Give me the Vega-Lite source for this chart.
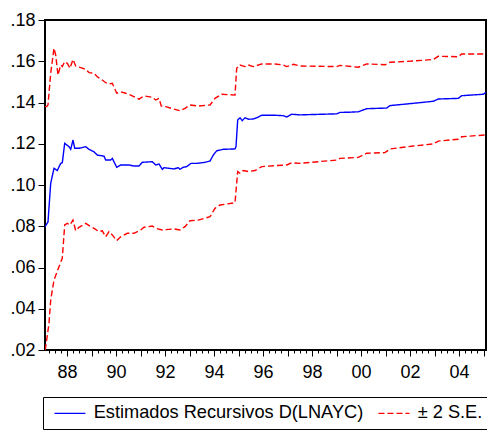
{
  "$schema": "https://vega.github.io/schema/vega-lite/v6.json",
  "width": 441,
  "height": 330,
  "autosize": {"type": "none"},
  "padding": {"left": 45, "top": 20, "right": 1, "bottom": 81},
  "background": "white",
  "config": {
    "font": "Liberation Sans",
    "view": {"stroke": "black", "strokeWidth": 2},
    "axis": {"domain": false, "grid": false, "tickColor": "black", "labelColor": "black", "labelFont": "Liberation Sans", "labelFontSize": 18, "title": null},
    "legend": {
      "title": null,
      "orient": "none",
      "legendX": -2,
      "legendY": 377,
      "direction": "horizontal",
      "symbolType": "M-0.6,0H3.4",
      "symbolSize": 240,
      "symbolStrokeWidth": 1.3,
      "labelFont": "Liberation Sans",
      "labelFontSize": 18.2,
      "labelColor": "black",
      "labelLimit": 500,
      "labelOffset": 25.5,
      "columnPadding": 10,
      "padding": 7,
      "strokeColor": "black"
    }
  },
  "data": {
    "values": [
      {"t": 1987.100, "v": 0.0797, "s": "est", "k": "e"},
      {"t": 1987.222, "v": 0.0821, "s": "est", "k": "e"},
      {"t": 1987.333, "v": 0.1008, "s": "est", "k": "e"},
      {"t": 1987.467, "v": 0.1081, "s": "est", "k": "e"},
      {"t": 1987.602, "v": 0.1070, "s": "est", "k": "e"},
      {"t": 1987.741, "v": 0.1105, "s": "est", "k": "e"},
      {"t": 1987.806, "v": 0.1108, "s": "est", "k": "e"},
      {"t": 1987.904, "v": 0.1202, "s": "est", "k": "e"},
      {"t": 1988.080, "v": 0.1186, "s": "est", "k": "e"},
      {"t": 1988.149, "v": 0.1173, "s": "est", "k": "e"},
      {"t": 1988.243, "v": 0.1218, "s": "est", "k": "e"},
      {"t": 1988.312, "v": 0.1178, "s": "est", "k": "e"},
      {"t": 1988.488, "v": 0.1178, "s": "est", "k": "e"},
      {"t": 1988.761, "v": 0.1186, "s": "est", "k": "e"},
      {"t": 1988.896, "v": 0.1173, "s": "est", "k": "e"},
      {"t": 1989.100, "v": 0.1161, "s": "est", "k": "e"},
      {"t": 1989.235, "v": 0.1145, "s": "est", "k": "e"},
      {"t": 1989.508, "v": 0.1140, "s": "est", "k": "e"},
      {"t": 1989.578, "v": 0.1121, "s": "est", "k": "e"},
      {"t": 1989.782, "v": 0.1121, "s": "est", "k": "e"},
      {"t": 1989.847, "v": 0.1129, "s": "est", "k": "e"},
      {"t": 1990.027, "v": 0.1086, "s": "est", "k": "e"},
      {"t": 1990.190, "v": 0.1097, "s": "est", "k": "e"},
      {"t": 1990.529, "v": 0.1097, "s": "est", "k": "e"},
      {"t": 1990.733, "v": 0.1092, "s": "est", "k": "e"},
      {"t": 1990.937, "v": 0.1092, "s": "est", "k": "e"},
      {"t": 1991.071, "v": 0.1110, "s": "est", "k": "e"},
      {"t": 1991.480, "v": 0.1113, "s": "est", "k": "e"},
      {"t": 1991.618, "v": 0.1097, "s": "est", "k": "e"},
      {"t": 1991.753, "v": 0.1102, "s": "est", "k": "e"},
      {"t": 1991.888, "v": 0.1076, "s": "est", "k": "e"},
      {"t": 1991.957, "v": 0.1084, "s": "est", "k": "e"},
      {"t": 1992.365, "v": 0.1078, "s": "est", "k": "e"},
      {"t": 1992.541, "v": 0.1084, "s": "est", "k": "e"},
      {"t": 1992.610, "v": 0.1076, "s": "est", "k": "e"},
      {"t": 1992.745, "v": 0.1086, "s": "est", "k": "e"},
      {"t": 1992.884, "v": 0.1089, "s": "est", "k": "e"},
      {"t": 1993.059, "v": 0.1105, "s": "est", "k": "e"},
      {"t": 1993.292, "v": 0.1105, "s": "est", "k": "e"},
      {"t": 1993.631, "v": 0.1110, "s": "est", "k": "e"},
      {"t": 1993.835, "v": 0.1116, "s": "est", "k": "e"},
      {"t": 1993.969, "v": 0.1145, "s": "est", "k": "e"},
      {"t": 1994.108, "v": 0.1166, "s": "est", "k": "e"},
      {"t": 1994.378, "v": 0.1173, "s": "est", "k": "e"},
      {"t": 1994.855, "v": 0.1175, "s": "est", "k": "e"},
      {"t": 1994.896, "v": 0.1186, "s": "est", "k": "e"},
      {"t": 1994.965, "v": 0.1315, "s": "est", "k": "e"},
      {"t": 1995.059, "v": 0.1326, "s": "est", "k": "e"},
      {"t": 1995.153, "v": 0.1312, "s": "est", "k": "e"},
      {"t": 1995.263, "v": 0.1326, "s": "est", "k": "e"},
      {"t": 1995.398, "v": 0.1319, "s": "est", "k": "e"},
      {"t": 1995.602, "v": 0.1320, "s": "est", "k": "e"},
      {"t": 1995.741, "v": 0.1326, "s": "est", "k": "e"},
      {"t": 1995.945, "v": 0.1338, "s": "est", "k": "e"},
      {"t": 1996.488, "v": 0.1338, "s": "est", "k": "e"},
      {"t": 1996.827, "v": 0.1336, "s": "est", "k": "e"},
      {"t": 1996.965, "v": 0.1330, "s": "est", "k": "e"},
      {"t": 1997.169, "v": 0.1343, "s": "est", "k": "e"},
      {"t": 1997.508, "v": 0.1340, "s": "est", "k": "e"},
      {"t": 1999.006, "v": 0.1345, "s": "est", "k": "e"},
      {"t": 1999.141, "v": 0.1352, "s": "est", "k": "e"},
      {"t": 1999.549, "v": 0.1353, "s": "est", "k": "e"},
      {"t": 1999.888, "v": 0.1355, "s": "est", "k": "e"},
      {"t": 2000.231, "v": 0.1370, "s": "est", "k": "e"},
      {"t": 2001.047, "v": 0.1373, "s": "est", "k": "e"},
      {"t": 2001.182, "v": 0.1385, "s": "est", "k": "e"},
      {"t": 2002.133, "v": 0.1396, "s": "est", "k": "e"},
      {"t": 2002.949, "v": 0.1406, "s": "est", "k": "e"},
      {"t": 2003.153, "v": 0.1417, "s": "est", "k": "e"},
      {"t": 2003.969, "v": 0.1420, "s": "est", "k": "e"},
      {"t": 2004.108, "v": 0.1433, "s": "est", "k": "e"},
      {"t": 2004.990, "v": 0.1440, "s": "est", "k": "e"},
      {"t": 2005.100, "v": 0.1449, "s": "est", "k": "e"},

      {"t": 1987.100, "v": 0.1380, "s": "se", "k": "u"},
      {"t": 1987.169, "v": 0.1380, "s": "se", "k": "u"},
      {"t": 1987.222, "v": 0.1388, "s": "se", "k": "u"},
      {"t": 1987.333, "v": 0.1542, "s": "se", "k": "u"},
      {"t": 1987.467, "v": 0.1663, "s": "se", "k": "u"},
      {"t": 1987.537, "v": 0.1630, "s": "se", "k": "u"},
      {"t": 1987.631, "v": 0.1533, "s": "se", "k": "u"},
      {"t": 1987.741, "v": 0.1582, "s": "se", "k": "u"},
      {"t": 1987.806, "v": 0.1574, "s": "se", "k": "u"},
      {"t": 1987.904, "v": 0.1598, "s": "se", "k": "u"},
      {"t": 1988.010, "v": 0.1590, "s": "se", "k": "u"},
      {"t": 1988.120, "v": 0.1566, "s": "se", "k": "u"},
      {"t": 1988.243, "v": 0.1609, "s": "se", "k": "u"},
      {"t": 1988.353, "v": 0.1577, "s": "se", "k": "u"},
      {"t": 1988.557, "v": 0.1569, "s": "se", "k": "u"},
      {"t": 1988.761, "v": 0.1561, "s": "se", "k": "u"},
      {"t": 1988.896, "v": 0.1545, "s": "se", "k": "u"},
      {"t": 1989.100, "v": 0.1542, "s": "se", "k": "u"},
      {"t": 1989.235, "v": 0.1525, "s": "se", "k": "u"},
      {"t": 1989.439, "v": 0.1509, "s": "se", "k": "u"},
      {"t": 1989.578, "v": 0.1496, "s": "se", "k": "u"},
      {"t": 1989.712, "v": 0.1490, "s": "se", "k": "u"},
      {"t": 1989.847, "v": 0.1493, "s": "se", "k": "u"},
      {"t": 1990.027, "v": 0.1445, "s": "se", "k": "u"},
      {"t": 1990.190, "v": 0.1452, "s": "se", "k": "u"},
      {"t": 1990.394, "v": 0.1445, "s": "se", "k": "u"},
      {"t": 1990.598, "v": 0.1436, "s": "se", "k": "u"},
      {"t": 1990.937, "v": 0.1416, "s": "se", "k": "u"},
      {"t": 1991.141, "v": 0.1432, "s": "se", "k": "u"},
      {"t": 1991.480, "v": 0.1425, "s": "se", "k": "u"},
      {"t": 1991.618, "v": 0.1412, "s": "se", "k": "u"},
      {"t": 1991.753, "v": 0.1420, "s": "se", "k": "u"},
      {"t": 1991.847, "v": 0.1383, "s": "se", "k": "u"},
      {"t": 1992.027, "v": 0.1380, "s": "se", "k": "u"},
      {"t": 1992.337, "v": 0.1369, "s": "se", "k": "u"},
      {"t": 1992.610, "v": 0.1360, "s": "se", "k": "u"},
      {"t": 1992.814, "v": 0.1372, "s": "se", "k": "u"},
      {"t": 1993.018, "v": 0.1388, "s": "se", "k": "u"},
      {"t": 1993.357, "v": 0.1383, "s": "se", "k": "u"},
      {"t": 1993.835, "v": 0.1388, "s": "se", "k": "u"},
      {"t": 1994.039, "v": 0.1420, "s": "se", "k": "u"},
      {"t": 1994.312, "v": 0.1440, "s": "se", "k": "u"},
      {"t": 1994.855, "v": 0.1436, "s": "se", "k": "u"},
      {"t": 1994.924, "v": 0.1566, "s": "se", "k": "u"},
      {"t": 1995.059, "v": 0.1582, "s": "se", "k": "u"},
      {"t": 1995.263, "v": 0.1574, "s": "se", "k": "u"},
      {"t": 1995.398, "v": 0.1582, "s": "se", "k": "u"},
      {"t": 1995.602, "v": 0.1574, "s": "se", "k": "u"},
      {"t": 1995.945, "v": 0.1587, "s": "se", "k": "u"},
      {"t": 1996.488, "v": 0.1587, "s": "se", "k": "u"},
      {"t": 1996.827, "v": 0.1582, "s": "se", "k": "u"},
      {"t": 1996.965, "v": 0.1574, "s": "se", "k": "u"},
      {"t": 1997.235, "v": 0.1585, "s": "se", "k": "u"},
      {"t": 1997.508, "v": 0.1577, "s": "se", "k": "u"},
      {"t": 1999.006, "v": 0.1574, "s": "se", "k": "u"},
      {"t": 1999.141, "v": 0.1580, "s": "se", "k": "u"},
      {"t": 1999.888, "v": 0.1571, "s": "se", "k": "u"},
      {"t": 2000.231, "v": 0.1587, "s": "se", "k": "u"},
      {"t": 2000.978, "v": 0.1583, "s": "se", "k": "u"},
      {"t": 2001.182, "v": 0.1595, "s": "se", "k": "u"},
      {"t": 2002.133, "v": 0.1601, "s": "se", "k": "u"},
      {"t": 2002.949, "v": 0.1609, "s": "se", "k": "u"},
      {"t": 2003.153, "v": 0.1624, "s": "se", "k": "u"},
      {"t": 2003.969, "v": 0.1622, "s": "se", "k": "u"},
      {"t": 2004.108, "v": 0.1635, "s": "se", "k": "u"},
      {"t": 2004.990, "v": 0.1635, "s": "se", "k": "u"},
      {"t": 2005.100, "v": 0.1645, "s": "se", "k": "u"},

      {"t": 1987.110, "v": 0.0200, "s": "se", "k": "l"},
      {"t": 1987.129, "v": 0.0216, "s": "se", "k": "l"},
      {"t": 1987.263, "v": 0.0329, "s": "se", "k": "l"},
      {"t": 1987.333, "v": 0.0442, "s": "se", "k": "l"},
      {"t": 1987.467, "v": 0.0539, "s": "se", "k": "l"},
      {"t": 1987.671, "v": 0.0604, "s": "se", "k": "l"},
      {"t": 1987.806, "v": 0.0645, "s": "se", "k": "l"},
      {"t": 1987.904, "v": 0.0806, "s": "se", "k": "l"},
      {"t": 1988.010, "v": 0.0814, "s": "se", "k": "l"},
      {"t": 1988.120, "v": 0.0806, "s": "se", "k": "l"},
      {"t": 1988.243, "v": 0.0830, "s": "se", "k": "l"},
      {"t": 1988.353, "v": 0.0778, "s": "se", "k": "l"},
      {"t": 1988.488, "v": 0.0795, "s": "se", "k": "l"},
      {"t": 1988.761, "v": 0.0814, "s": "se", "k": "l"},
      {"t": 1988.965, "v": 0.0798, "s": "se", "k": "l"},
      {"t": 1989.100, "v": 0.0790, "s": "se", "k": "l"},
      {"t": 1989.304, "v": 0.0774, "s": "se", "k": "l"},
      {"t": 1989.439, "v": 0.0778, "s": "se", "k": "l"},
      {"t": 1989.578, "v": 0.0749, "s": "se", "k": "l"},
      {"t": 1989.712, "v": 0.0774, "s": "se", "k": "l"},
      {"t": 1989.847, "v": 0.0758, "s": "se", "k": "l"},
      {"t": 1990.027, "v": 0.0730, "s": "se", "k": "l"},
      {"t": 1990.190, "v": 0.0749, "s": "se", "k": "l"},
      {"t": 1990.459, "v": 0.0766, "s": "se", "k": "l"},
      {"t": 1990.733, "v": 0.0766, "s": "se", "k": "l"},
      {"t": 1991.006, "v": 0.0782, "s": "se", "k": "l"},
      {"t": 1991.141, "v": 0.0795, "s": "se", "k": "l"},
      {"t": 1991.480, "v": 0.0801, "s": "se", "k": "l"},
      {"t": 1991.618, "v": 0.0790, "s": "se", "k": "l"},
      {"t": 1991.888, "v": 0.0782, "s": "se", "k": "l"},
      {"t": 1992.365, "v": 0.0787, "s": "se", "k": "l"},
      {"t": 1992.610, "v": 0.0782, "s": "se", "k": "l"},
      {"t": 1992.814, "v": 0.0798, "s": "se", "k": "l"},
      {"t": 1993.018, "v": 0.0827, "s": "se", "k": "l"},
      {"t": 1993.357, "v": 0.0830, "s": "se", "k": "l"},
      {"t": 1993.835, "v": 0.0846, "s": "se", "k": "l"},
      {"t": 1994.039, "v": 0.0887, "s": "se", "k": "l"},
      {"t": 1994.243, "v": 0.0903, "s": "se", "k": "l"},
      {"t": 1994.855, "v": 0.0914, "s": "se", "k": "l"},
      {"t": 1994.965, "v": 0.1065, "s": "se", "k": "l"},
      {"t": 1995.059, "v": 0.1057, "s": "se", "k": "l"},
      {"t": 1995.194, "v": 0.1070, "s": "se", "k": "l"},
      {"t": 1995.398, "v": 0.1065, "s": "se", "k": "l"},
      {"t": 1995.671, "v": 0.1070, "s": "se", "k": "l"},
      {"t": 1995.945, "v": 0.1089, "s": "se", "k": "l"},
      {"t": 1996.488, "v": 0.1094, "s": "se", "k": "l"},
      {"t": 1996.965, "v": 0.1097, "s": "se", "k": "l"},
      {"t": 1997.169, "v": 0.1108, "s": "se", "k": "l"},
      {"t": 1997.508, "v": 0.1105, "s": "se", "k": "l"},
      {"t": 1999.006, "v": 0.1121, "s": "se", "k": "l"},
      {"t": 1999.141, "v": 0.1129, "s": "se", "k": "l"},
      {"t": 1999.888, "v": 0.1134, "s": "se", "k": "l"},
      {"t": 2000.231, "v": 0.1154, "s": "se", "k": "l"},
      {"t": 2000.978, "v": 0.1157, "s": "se", "k": "l"},
      {"t": 2001.182, "v": 0.1175, "s": "se", "k": "l"},
      {"t": 2002.133, "v": 0.1189, "s": "se", "k": "l"},
      {"t": 2002.949, "v": 0.1199, "s": "se", "k": "l"},
      {"t": 2003.153, "v": 0.1213, "s": "se", "k": "l"},
      {"t": 2003.969, "v": 0.1222, "s": "se", "k": "l"},
      {"t": 2004.108, "v": 0.1234, "s": "se", "k": "l"},
      {"t": 2005.100, "v": 0.1243, "s": "se", "k": "l"}
    ]
  },
  "mark": {"type": "line", "strokeWidth": 1.4, "clip": true},
  "encoding": {
    "x": {
      "field": "t",
      "type": "quantitative",
      "scale": {"domain": [1987.1, 2005.1], "nice": false, "zero": false},
      "axis": {
        "values": [1987.25, 1987.5, 1987.75, 1988, 1988.25, 1988.5, 1988.75, 1989, 1989.25, 1989.5, 1989.75, 1990, 1990.25, 1990.5, 1990.75, 1991, 1991.25, 1991.5, 1991.75, 1992, 1992.25, 1992.5, 1992.75, 1993, 1993.25, 1993.5, 1993.75, 1994, 1994.25, 1994.5, 1994.75, 1995, 1995.25, 1995.5, 1995.75, 1996, 1996.25, 1996.5, 1996.75, 1997, 1997.25, 1997.5, 1997.75, 1998, 1998.25, 1998.5, 1998.75, 1999, 1999.25, 1999.5, 1999.75, 2000, 2000.25, 2000.5, 2000.75, 2001, 2001.25, 2001.5, 2001.75, 2002, 2002.25, 2002.5, 2002.75, 2003, 2003.25, 2003.5, 2003.75, 2004, 2004.25, 2004.5, 2004.75, 2005],
        "labelExpr": "datum.value % 2 === 0 ? format(datum.value % 100, '02d') : ''",
        "labelOverlap": false,
        "labelFlush": false,
        "labelBound": false,
        "tickSize": {"condition": {"test": "datum.value % 1 === 0", "value": 6}, "value": 3},
        "tickWidth": 1,
        "labelPadding": 7
      }
    },
    "y": {
      "field": "v",
      "type": "quantitative",
      "scale": {"domain": [0.02, 0.18], "nice": false, "zero": false},
      "axis": {
        "values": [0.02, 0.04, 0.06, 0.08, 0.10, 0.12, 0.14, 0.16, 0.18],
        "labelExpr": "replace(format(datum.value, '.2f'), '0.', '.')",
        "tickSize": 7,
        "tickWidth": 1,
        "labelPadding": 3,
        "labelFlush": false,
        "labelOverlap": false
      }
    },
    "detail": {"field": "k"},
    "color": {
      "field": "s",
      "type": "nominal",
      "scale": {"domain": ["est", "se"], "range": ["#0000ff", "#ff0000"]},
      "legend": {
        "labelExpr": "datum.label === 'est' ? 'Estimados Recursivos D(LNAYC)' : '± 2 S.E.'"
      }
    },
    "strokeDash": {
      "field": "s",
      "type": "nominal",
      "scale": {"domain": ["est", "se"], "range": [[1, 0], [6, 3]]},
      "legend": {
        "labelExpr": "datum.label === 'est' ? 'Estimados Recursivos D(LNAYC)' : '± 2 S.E.'"
      }
    }
  }
}
